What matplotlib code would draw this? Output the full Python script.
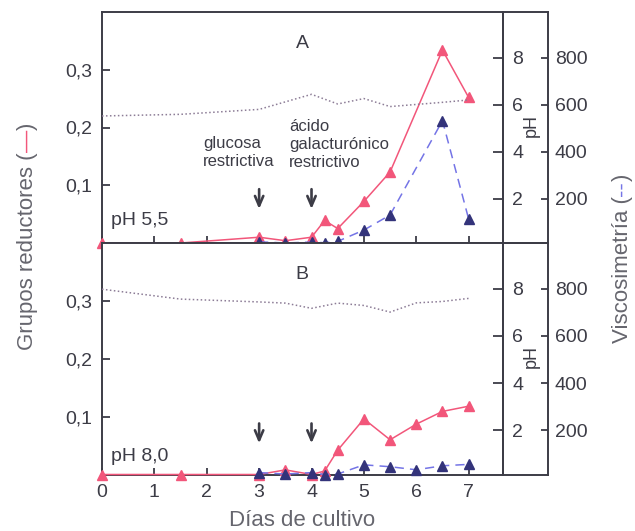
import matplotlib
matplotlib.use("Agg")
import matplotlib.pyplot as plt

plt.rcParams["font.family"] = ["Liberation Sans", "DejaVu Sans"]

# Panel A (pH 5,5)
dias_red_a = [0, 1.5, 3, 3.5, 4, 4.25, 4.5, 5, 5.5, 6.5, 7]
red_a = [0, 0, 0.010, 0.004, 0.010, 0.039, 0.025, 0.072, 0.123, 0.334, 0.252]
dias_visc_a = [3, 3.5, 4, 4.25, 4.5, 5, 5.5, 6.5, 7]
visc_a = [17, 12, 16, 13, 19, 67, 131, 532, 114]
dias_ph_a = [0, 1.5, 3, 4, 4.5, 5, 5.5, 6.5, 7]
ph_a = [5.52, 5.59, 5.80, 6.44, 6.03, 6.26, 5.92, 6.10, 6.20]

# Panel B (pH 8,0)
dias_red_b = [0, 1.5, 3, 3.5, 4, 4.25, 4.5, 5, 5.5, 6, 6.5, 7]
red_b = [0, 0, 0, 0.008, 0, 0.006, 0.042, 0.096, 0.060, 0.087, 0.109, 0.118]
dias_visc_b = [3, 3.5, 4, 4.25, 4.5, 5, 5.5, 6, 6.5, 7]
visc_b = [20, 14, 20, 12, 14, 53, 45, 32, 49, 55]
dias_ph_b = [0, 1.5, 3, 3.5, 4, 4.5, 5, 5.5, 6, 6.5, 7]
ph_b = [7.98, 7.56, 7.44, 7.39, 7.17, 7.39, 7.29, 7.01, 7.40, 7.46, 7.59]

dias_ticks = [0, 1, 2, 3, 4, 5, 6, 7]
red_ticks = [0.1, 0.2, 0.3]
red_labels = ["0,1", "0,2", "0,3"]
ph_ticks = [2, 4, 6, 8]
visc_ticks = [200, 400, 600, 800]

ROSA = "#f2567a"
AZUL = "#7474e6"
AZUL_OSC = "#33337a"
GRIS_PH = "#8c7c96"
TINTA = "#3c3c46"
GRIS_TXT = "#66666e"

W, H = 635, 531
fig = plt.figure(figsize=(W / 100, H / 100), dpi=100)
fig.patch.set_facecolor("white")

x0, x1 = 102, 502.7
x_visc = (548 - x0) / (x1 - x0)


def panel(top_px, bottom_px, dr, r, dv, v, dp, p, letra, etiqueta, y_etq, mostrar_x):
    ax = fig.add_axes([x0 / W, (H - bottom_px) / H, (x1 - x0) / W, (bottom_px - top_px) / H])
    ax.set_xlim(0, 7.65)
    ax.set_ylim(0, 0.40)
    ax.plot(dr, r, color=ROSA, lw=1.1, marker="^", ms=6.5, clip_on=False, zorder=4)

    ax_ph = ax.twinx()
    ax_ph.set_ylim(0.12, 9.94)
    ax_ph.plot(dp, p, color=GRIS_PH, ls=(0, (1, 1.6)), lw=1.1)

    ax_v = ax.twinx()
    ax_v.set_ylim(12, 994)
    ax_v.spines["right"].set_position(("axes", x_visc))
    ax_v.plot(dv, v, color=AZUL, ls=(0, (6, 4)), lw=1.1, marker="^", ms=6.5,
              mfc=AZUL_OSC, mec=AZUL_OSC, clip_on=False, zorder=4)

    for a in (ax, ax_ph, ax_v):
        for s in a.spines.values():
            s.set_color(TINTA)
            s.set_linewidth(1.4)
    for a in (ax_ph, ax_v):
        for k in ("top", "bottom", "left"):
            a.spines[k].set_visible(False)

    ax.set_xticks(dias_ticks)
    ax.set_yticks(red_ticks)
    ax.set_yticklabels(red_labels)
    ax.tick_params(axis="y", direction="in", length=6, width=1.3, pad=7,
                   labelsize=14, colors=TINTA)
    ax.tick_params(axis="x", direction="in", length=5, width=1.3, pad=7,
                   labelsize=14, colors=TINTA, labelbottom=mostrar_x)

    ax_ph.set_yticks(ph_ticks)
    ax_ph.tick_params(axis="y", direction="in", length=7, width=1.3, pad=7,
                      labelsize=14, colors=TINTA)
    ax_v.set_yticks(visc_ticks)
    ax_v.tick_params(axis="y", direction="in", length=5, width=1.3, pad=5,
                     labelsize=14, colors=TINTA)

    # cierre de la caja entre los dos ejes de la derecha
    ax.plot([1, x_visc], [1, 1], transform=ax.transAxes, color=TINTA, lw=1.4, clip_on=False)
    ax.plot([1, x_visc], [0, 0], transform=ax.transAxes, color=TINTA, lw=1.4, clip_on=False)

    ax.text(1.072, 0.51, "pH", transform=ax.transAxes, rotation=90, fontsize=13,
            color=TINTA, ha="center", va="center")
    ax.text(3.82, 0.345, letra, fontsize=14, color=TINTA, ha="center", va="center")
    ax.text(0.17, y_etq, etiqueta, fontsize=14, color=TINTA, ha="left", va="baseline")
    return ax


ax_a = panel(12, 243, dias_red_a, red_a, dias_visc_a, visc_a, dias_ph_a, ph_a,
             "A", "pH 5,5", 0.031, False)
ax_b = panel(243, 474.5, dias_red_b, red_b, dias_visc_b, visc_b, dias_ph_b, ph_b,
             "B", "pH 8,0", 0.023, True)

flecha = dict(arrowstyle="->,head_length=0.7,head_width=0.3", lw=1.9, color=TINTA)
for d in (3, 4):
    ax_a.annotate("", xy=(d, 0.054), xytext=(d, 0.098), arrowprops=flecha)
    ax_b.annotate("", xy=(d, 0.049), xytext=(d, 0.093), arrowprops=flecha)

ax_a.text(1.93, 0.186, "glucosa\nrestrictiva", fontsize=12, color=TINTA,
          ha="left", va="top", linespacing=1.25)
ax_a.text(3.57, 0.215, "ácido\ngalacturónico\nrestrictivo", fontsize=12, color=TINTA,
          ha="left", va="top", linespacing=1.25)

ax_b.set_xlabel("Días de cultivo", fontsize=16, color=GRIS_TXT, labelpad=6)


def texto_vertical(x_px, y_centro_px, partes, size):
    r = fig.canvas.get_renderer()
    anchos = []
    for s, c in partes:
        t = fig.text(0, 0, s, fontsize=size)
        anchos.append(t.get_window_extent(renderer=r).width)
        t.remove()
    y = y_centro_px - sum(anchos) / 2
    for (s, c), w in zip(partes, anchos):
        fig.text(x_px / W, y / H, s, fontsize=size, color=c, rotation=90,
                 rotation_mode="anchor", ha="left", va="baseline")
        y += w


fig.canvas.draw()
texto_vertical(33, H - 236, [("Grupos reductores (", GRIS_TXT), ("—", ROSA), (")", GRIS_TXT)], 16)
texto_vertical(628, H - 258, [("Viscosimetría (", GRIS_TXT), ("--", AZUL), (")", GRIS_TXT)], 16)

fig.savefig("out.png", dpi=100, facecolor="white")
